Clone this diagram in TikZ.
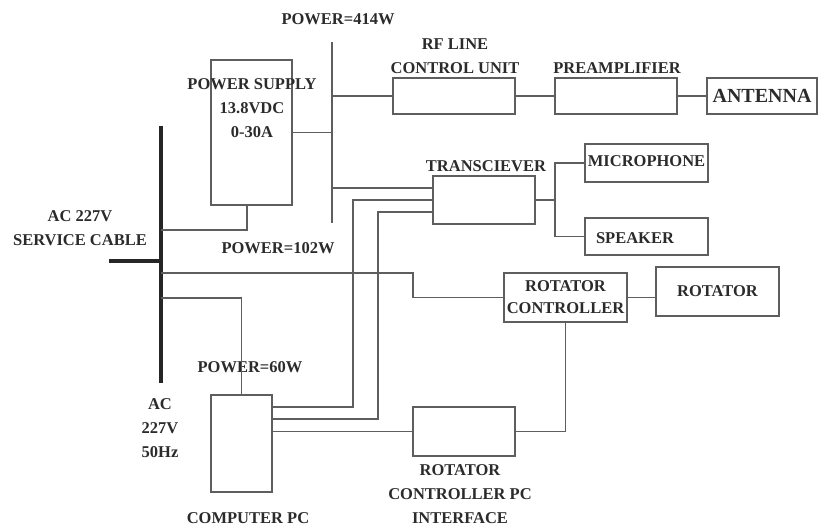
\documentclass[tikz,border=0pt]{standalone}
\usepackage{fontspec}
\setmainfont{Liberation Serif}
\usetikzlibrary{positioning,calc}
\definecolor{wiregray}{HTML}{5E5E5E}
\definecolor{inkgray}{HTML}{2B2B2B}

\begin{document}
\begin{tikzpicture}[
  x=1pt, y=-1pt,
  font=\fontsize{16.5}{24}\selectfont\bfseries, text=inkgray,
  box/.style={draw=wiregray,line width=1.5pt,inner sep=0pt,align=center},
  lbl/.style={align=center,inner sep=0pt},
  wire/.style={draw=wiregray,line width=1.5pt},
  mains/.style={draw=black!85,line width=4pt},
]
\useasboundingbox (0,0) rectangle (819,527);
% mains cable
\coordinate (cabtop) at (161,126);
\coordinate (cabbot) at (161,383);
\coordinate (cabin)  at (109,261);
\draw[mains] (cabtop) -- (cabbot);
\draw[mains] (cabin) -- (cabin -| cabtop);
\node[lbl] (cablbl) at (80,228) {AC 227V\\SERVICE CABLE};
\node[lbl] (aclbl)  at (160,428) {AC\\227V\\50Hz};
% power supply and dc bus
\node[box,minimum width=81pt,minimum height=145pt] (ps) at (251.5,132.5) {};
\node[lbl] (pslbl) at (252,108) {POWER SUPPLY\\13.8VDC\\0-30A};
\coordinate (bustop) at (332,42);
\coordinate (busbot) at (332,223);
\draw[wire] (bustop) -- (busbot);
\node[lbl] (p414) at (338,19) {POWER=414W};
\node[lbl] (p102) at (278,248) {POWER=102W};
\draw[wire] (ps.east) -- (ps.east -| bustop);
\draw[wire] ([xshift=-4.5pt]ps.south) |- (161,230);
% rf chain
\node[box,minimum width=122pt,minimum height=36pt] (rf)  at (454,96) {};
\node[box,minimum width=122pt,minimum height=36pt] (pre) at (616,96) {};
\node[box,minimum width=110pt,minimum height=36pt,font=\fontsize{20}{24}\selectfont\bfseries] (ant) at (762,96) {ANTENNA};
\node[lbl] (rflbl)  at (455,56) {RF LINE\\CONTROL UNIT};
\node[lbl] (prelbl) at (617,68) {PREAMPLIFIER};
\draw[wire] (rf.west -| bustop) -- (rf.west);
\draw[wire] (rf) -- (pre);
\draw[wire] (pre) -- (ant);
% transceiver
\node[box,minimum width=102pt,minimum height=48pt] (trx) at (484,200) {};
\node[lbl] (trxlbl) at (486,166) {TRANSCIEVER};
\node[box,minimum width=123pt,minimum height=38pt] (mic) at (646.5,163) {\raisebox{3pt}{MICROPHONE}};
\node[box,minimum width=123pt,minimum height=37pt] (spk) at (646.5,236.5) {};
\node[lbl] (spklbl) at (635,238) {SPEAKER};
\coordinate (split) at (555,200);
\draw[wire] (bustop |- 0,188) -- (trx.west |- 0,188);
\draw[wire] (trx.east) -- (split);
\draw[wire] (split) |- (mic.west);
\draw[wire] (split) |- (spk.west);
% rotator
\node[box,minimum width=123pt,minimum height=49pt] (rc)  at (565.5,297.5) {ROTATOR\\[-2pt]CONTROLLER};
\node[box,minimum width=123pt,minimum height=49pt] (rot) at (717.5,291.5) {ROTATOR};
\draw[wire] (rc.east) -- (rc.east -| rot.west);
\draw[wire] (cabtop |- 0,273) -| (413,297.5) -- (rc.west);
% computer
\node[box,minimum width=61pt,minimum height=97pt] (pc) at (241.5,443.5) {};
\node[lbl] (pclbl) at (248,518) {COMPUTER PC};
\node[lbl] (p60)   at (250,367) {POWER=60W};
\draw[wire] (cabtop |- 0,298) -| (pc.north);
\node[box,minimum width=102pt,minimum height=49pt] (rif) at (464,431.5) {};
\node[lbl] (riflbl) at (460,494) {ROTATOR\\CONTROLLER PC\\INTERFACE};
\draw[wire] (pc.east |- 0,407) -| (353,200) -- (trx.west);
\draw[wire] (pc.east |- 0,419) -| (378,212) -- (trx.west |- 0,212);
\draw[wire] (pc.east |- rif.west) -- (rif.west);
\draw[wire] (rc.south) |- (rif.east);
\end{tikzpicture}
\end{document}
